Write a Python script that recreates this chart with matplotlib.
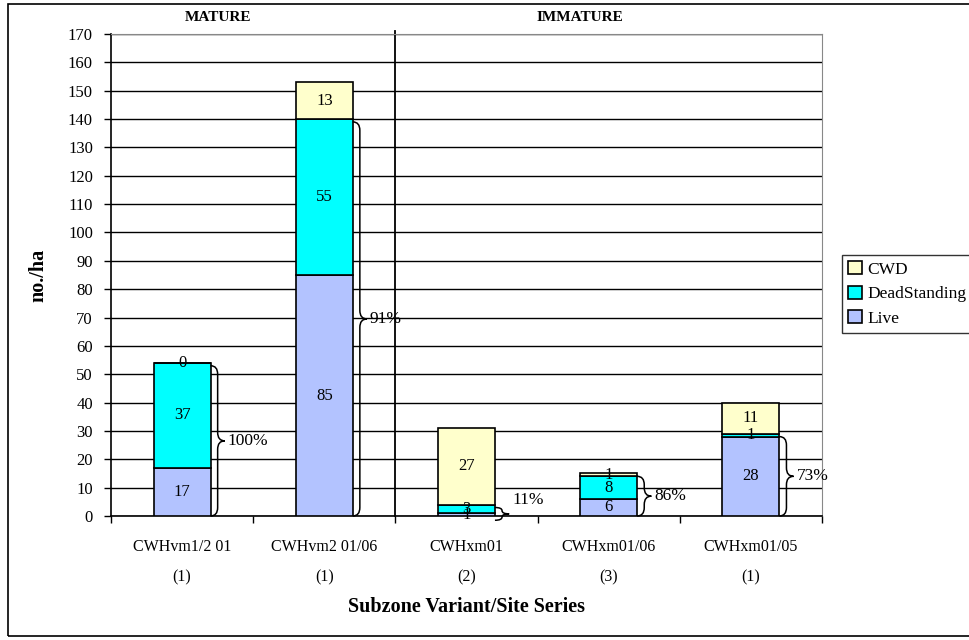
import matplotlib.pyplot as plt
from matplotlib.path import Path
from matplotlib.patches import PathPatch, Rectangle

plt.rcParams['font.family'] = ['Liberation Serif', 'DejaVu Serif']

# data
sites = ["CWHvm1/2 01", "CWHvm2 01/06", "CWHxm01", "CWHxm01/06", "CWHxm01/05"]
n_plots = ["(1)", "(1)", "(2)", "(3)", "(1)"]
live = [17, 85, 1, 6, 28]
dead = [37, 55, 3, 8, 1]
cwd = [0, 13, 27, 1, 11]
pct_labels = ["100%", "91%", "11%", "86%", "73%"]
brace_top = [53, 139, 3, 14, 28]
groups = ["MATURE", "IMMATURE"]

col_cwd = "#FFFFCC"
col_dead = "#00FFFF"
col_live = "#B3C3FF"

fig = plt.figure(figsize=(9.69, 6.4), dpi=100)
ax = fig.add_axes([111/969, 1 - 516/640, (822-111)/969, (516-34)/640])

x = list(range(len(sites)))
w = 0.4
b1 = ax.bar(x, live, w, color=col_live, edgecolor="black", lw=1.2, label="Live", zorder=3)
b2 = ax.bar(x, dead, w, bottom=live, color=col_dead, edgecolor="black", lw=1.2,
            label="DeadStanding", zorder=3)
bot = [a + b for a, b in zip(live, dead)]
b3 = ax.bar(x, cwd, w, bottom=bot, color=col_cwd, edgecolor="black", lw=1.2,
            label="CWD", zorder=3)

fs = 12
for i in x:
    ax.text(i, live[i] / 2, str(live[i]), ha="center", va="center", fontsize=fs, zorder=5)
    ax.text(i, live[i] + dead[i] / 2, str(dead[i]), ha="center", va="center", fontsize=fs, zorder=5)
    ax.text(i, bot[i] + cwd[i] / 2, str(cwd[i]), ha="center", va="center", fontsize=fs, zorder=5)


def brace(ax, x0, y0, y1, bw):
    ym = (y0 + y1) / 2
    d = min(3.0, (y1 - y0) / 4)
    xm = x0 + bw / 2
    verts = [(x0, y0), (xm, y0), (xm, y0 + d),
             (xm, ym - d), (xm, ym), (x0 + bw, ym),
             (xm, ym), (xm, ym + d),
             (xm, y1 - d), (xm, y1), (x0, y1)]
    codes = [Path.MOVETO, Path.CURVE3, Path.CURVE3,
             Path.LINETO, Path.CURVE3, Path.CURVE3,
             Path.CURVE3, Path.CURVE3,
             Path.LINETO, Path.CURVE3, Path.CURVE3]
    ax.add_patch(PathPatch(Path(verts, codes), fill=False, lw=1.1, color="black",
                           zorder=4, clip_on=False))
    return ym


for i in x:
    y0 = -1.5 if brace_top[i] < 5 else 0
    ym = brace(ax, i + w / 2, y0, brace_top[i], 0.1)
    ty = ym if brace_top[i] >= 5 else ym + 5
    ax.text(i + w / 2 + 0.12, ty, pct_labels[i], ha="left", va="center", fontsize=12.5, zorder=5)

ax.set_xlim(-0.5, 4.5)
ax.set_ylim(0, 170)
ax.set_yticks(range(0, 171, 10))
ax.set_xticks([i - 0.5 for i in range(6)])
ax.set_xticklabels([])
ax.tick_params(axis="both", direction="out", length=5, width=1, labelsize=12, pad=8)
ax.yaxis.grid(True, color="black", lw=1)
ax.set_axisbelow(True)
for s in ["top", "right"]:
    ax.spines[s].set_color("#888888")
ax.spines["left"].set_linewidth(1.2)
ax.spines["bottom"].set_linewidth(1.2)
ax.axvline(1.5, ymin=0, ymax=1.007, color="black", lw=1.3, clip_on=False, zorder=2)

tr = ax.get_xaxis_transform()
for i in x:
    ax.text(i, -0.064, sites[i], transform=tr, ha="center", va="center", fontsize=11.5)
    ax.text(i, -0.127, n_plots[i], transform=tr, ha="center", va="center", fontsize=11.5)
ax.text(2.0, -0.188, "Subzone Variant/Site Series", transform=tr, ha="center", va="center",
        fontsize=14.5, fontweight="bold")
ax.text(0.25, 1.034, groups[0], transform=tr, ha="center", va="center", fontsize=11, fontweight="bold")
ax.text(2.8, 1.034, groups[1], transform=tr, ha="center", va="center", fontsize=11, fontweight="bold")
ax.set_ylabel("no./ha", fontsize=14.5, fontweight="bold", labelpad=14)

leg = fig.legend(handles=[b3, b2, b1], loc="upper left", bbox_to_anchor=(842/969, 1 - 255/640),
                 frameon=True, fancybox=False, edgecolor="black", fontsize=12.5,
                 handlelength=0.8, handleheight=0.8, handletextpad=0.3, borderpad=0.35,
                 labelspacing=0.45, borderaxespad=0)
leg.get_frame().set_linewidth(1)

fig.patches.append(Rectangle((8/969, 4/640), 1.0, 1 - 8/640, transform=fig.transFigure,
                             fill=False, edgecolor="black", lw=1.2))

plt.savefig("out.png", dpi=100)
